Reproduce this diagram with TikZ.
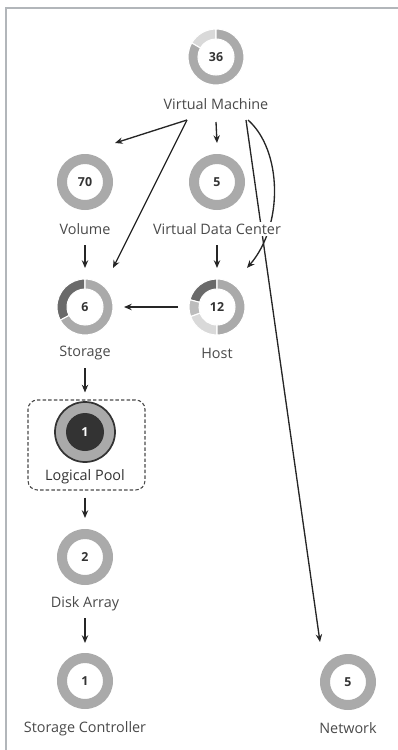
\documentclass[tikz,border=0pt]{standalone}
\usepackage{fontspec}
\setmainfont{Open Sans}
\usetikzlibrary{arrows.meta,calc}
\pgfdeclarelayer{background}
\pgfsetlayers{background,main}
\definecolor{cmed}{HTML}{AAAAAA}
\definecolor{clight}{HTML}{D9D9D9}
\definecolor{cdark}{HTML}{6A6A6A}
\definecolor{cmid}{HTML}{BCBCBC}
\definecolor{ctext}{HTML}{4A4A4A}
\definecolor{cnum}{HTML}{333333}
\definecolor{cframe}{HTML}{B2B6BA}
\definecolor{cline}{HTML}{262626}
\newcommand{\ringarc}[3]{\fill[#3, draw=white, line width=0.8pt] (#1:28) arc[start angle=#1, end angle=#2, radius=28] -- (#2:18) arc[start angle=#2, end angle=#1, radius=18] -- cycle;}
\newcommand{\fullring}[1]{\fill[cmed, even odd rule] (#1) circle[radius=28] (#1) circle[radius=18];}
\begin{document}
\begin{tikzpicture}[x=0.75pt,y=0.75pt,
  ringnode/.style={circle, minimum size=27pt, inner sep=0pt, text=cnum, font=\bfseries\fontsize{9.3}{11}\selectfont},
  lbl/.style={fill=white, inner sep=1pt, text=ctext, font=\fontsize{10.8}{12}\selectfont},
  arr/.style={draw=cline, line width=1pt, -{Stealth[length=5.8pt,width=4.8pt]}},
  framestyle/.style={draw=cframe, line width=1.4pt}]
\useasboundingbox (0,0) rectangle (398,-750);
% frame
\draw[framestyle] (5,-8) -- (398,-8);
\draw[framestyle] (6,-8) -- (6,-750);

% ring nodes
\node[ringnode] (vm)  at (216,-57)  {36};
\node[ringnode] (vol) at (85,-182)  {70};
\node[ringnode] (vdc) at (217,-182) {5};
\node[ringnode] (sto) at (85,-307)  {6};
\node[ringnode] (host) at (217,-307) {12};
\node[ringnode, text=white] (lp) at (85,-432) {};
\node[ringnode] (da)  at (85,-557)  {2};
\node[ringnode] (sc)  at (85,-681)  {1};
\node[ringnode] (net) at (348,-682) {5};

% rings
\begin{scope}[shift={(vm)}]
  \ringarc{90}{150}{clight}
  \ringarc{150}{450}{cmed}
\end{scope}
\fullring{vol}
\fullring{vdc}
\begin{scope}[shift={(sto)}]
  \ringarc{90}{208}{cdark}
  \ringarc{208}{450}{cmed}
\end{scope}
\begin{scope}[shift={(host)}]
  \ringarc{90}{165}{cdark}
  \ringarc{165}{200}{cmid}
  \ringarc{200}{270}{clight}
  \ringarc{270}{450}{cmed}
\end{scope}
\fill[cmed, draw=cnum, line width=1.3pt] (lp) circle[radius=30];
\fill[cnum] (lp) circle[radius=19];
\node[ringnode, text=white] at (lp) {1};
\fullring{da}
\fullring{sc}
\fullring{net}

% labels
\node[lbl] (vml)   at (216,-104) {Virtual Machine};
\node[lbl] (voll)  at (85,-229)  {Volume};
\node[lbl] (vdcl)  at (217,-229) {Virtual Data Center};
\node[lbl] (stol)  at (85,-353)  {Storage};
\node[lbl] (hostl) at (217,-353) {Host};
\node[lbl, text=cnum] (lpl) at (85,-477) {Logical Pool};
\node[lbl] (dal)   at (85,-604)  {Disk Array};
\node[lbl] (scl)   at (85,-729)  {Storage Controller};
\node[lbl] (netl)  at (348,-728) {Network};

% logical pool box
\node[draw=ctext, dashed, dash pattern=on 2.6pt off 1.6pt, line width=0.8pt, rounded corners=7pt,
      minimum width=87.75pt, minimum height=67.5pt, inner sep=0pt] (lpbox) at (86.5,-445) {};

% edges
\begin{pgfonlayer}{background}
\draw[arr] ($(vml.center)+(-29,-16)$) -- ($(vol.center)+(30,39)$);
\draw[arr] ($(vml.center)+(-29,-16)$) -- ($(sto.center)+(28,39)$);
\draw[arr] ($(vml.center)+(0,-18)$) -- ($(vdc.center)+(0,39)$);
\draw[arr] ($(vml.center)+(30,-16)$) -- ($(net.center)+(-28,40)$);
\draw[arr] ($(vml.center)+(32,-16)$) .. controls ($(vml.center)+(66,-46)$) and ($(vml.center)+(68,-121)$) .. ($(host.center)+(30,39)$);
\draw[arr] ($(voll.center)+(0,-16)$) -- ($(sto.center)+(0,39)$);
\draw[arr] ($(vdcl.center)+(0,-16)$) -- ($(host.center)+(0,39)$);
\draw[arr] ($(host.center)+(-39,0)$) -- ($(sto.center)+(39,0)$);
\draw[arr] ($(stol.center)+(0,-15)$) -- ($(lpbox.north)+(-1.5,7)$);
\draw[arr] ($(lpbox.south)+(-1.5,-7)$) -- ($(da.center)+(0,39)$);
\draw[arr] ($(dal.center)+(0,-14)$) -- ($(sc.center)+(0,38)$);
\end{pgfonlayer}
\end{tikzpicture}
\end{document}
